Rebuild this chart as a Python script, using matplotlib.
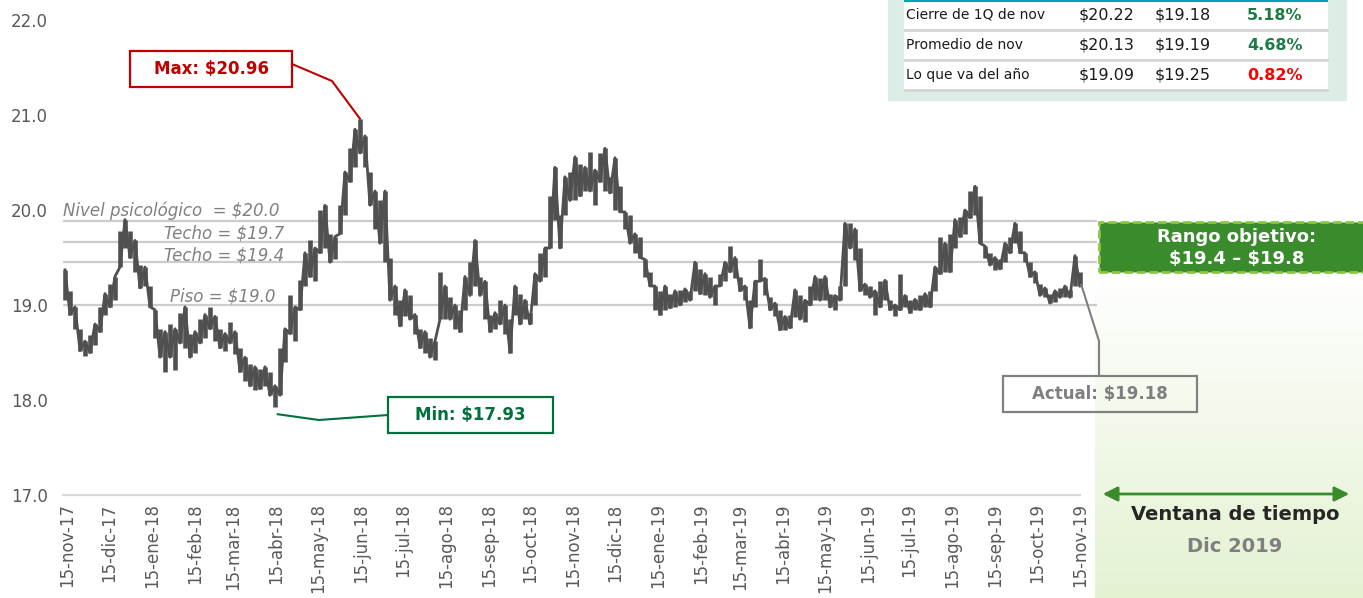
import numpy as np
import pandas as pd
import matplotlib
matplotlib.use('Agg')
import matplotlib.pyplot as plt
from matplotlib.patches import Rectangle, FancyArrowPatch
from matplotlib.lines import Line2D

plt.rcParams['font.family'] = ['DejaVu Sans']
plt.rcParams['text.parse_math'] = False

# ── datos ─────────────────────────────────────────────────────────
inicio = pd.Timestamp('2017-11-15')
fin = pd.Timestamp('2019-11-15')
paso_dias = 3.603          # separación entre muestras (días)
primer_dia = -1.44         # primera muestra respecto al 15-nov-17

bajo = [19.05, 18.90, 18.75, 18.52, 18.46, 18.50, 18.58, 18.72, 18.90, 18.98,
        19.05, 19.40, 19.60, 19.50, 19.35, 19.18, 19.20, 18.98, 18.65, 18.45,
        18.30, 18.45, 18.32, 18.60, 18.55, 18.45, 18.50, 18.60, 18.65, 18.75,
        18.62, 18.55, 18.52, 18.60, 18.48, 18.30, 18.20, 18.15, 18.10, 18.12,
        18.15, 18.05, 17.93, 18.05, 18.40, 18.70, 18.62, 18.95, 19.20, 19.30,
        19.25, 19.55, 19.60, 19.45, 19.48, 19.75, 19.95, 20.30, 20.45, 20.60,
        20.45, 20.05, 19.80, 19.65, 19.45, 19.05, 18.90, 18.78, 18.88, 18.85,
        18.70, 18.55, 18.50, 18.45, 18.42, 18.85, 18.85, 18.85, 18.75, 18.72,
        18.95, 19.10, 19.20, 19.10, 18.85, 18.72, 18.75, 18.80, 18.70, 18.50,
        18.90, 18.80, 18.85, 18.80, 19.00, 19.25, 19.30, 19.60, 19.90, 19.60,
        19.95, 20.10, 20.10, 20.15, 20.20, 20.20, 20.05, 20.30, 20.20, 20.18,
        20.00, 19.98, 19.80, 19.65, 19.55, 19.50, 19.30, 19.20, 18.95, 18.90,
        18.95, 18.97, 18.98, 19.00, 19.03, 19.05, 19.15, 19.12, 19.10, 19.08,
        19.00, 19.20, 19.25, 19.35, 19.28, 19.15, 19.05, 18.76, 18.98, 19.25,
        19.10, 18.95, 18.88, 18.74, 18.74, 18.76, 18.87, 18.85, 18.82, 19.00,
        19.05, 19.05, 19.05, 18.98, 18.95, 19.05, 19.20, 19.60, 19.47, 19.15,
        19.10, 19.08, 18.90, 18.98, 19.05, 18.95, 18.88, 18.95, 18.98, 18.92,
        18.95, 18.95, 18.98, 18.98, 19.15, 19.33, 19.35, 19.35, 19.60, 19.72,
        19.75, 19.92, 19.95, 19.65, 19.50, 19.42, 19.37, 19.38, 19.45, 19.55,
        19.65, 19.55, 19.45, 19.30, 19.23, 19.10, 19.08, 19.02, 19.03, 19.08,
        19.08, 19.08, 19.20, 19.20]

alto = [19.37, 19.15, 18.98, 18.75, 18.62, 18.68, 18.80, 18.98, 19.12, 19.22,
        19.30, 19.78, 19.90, 19.78, 19.68, 19.42, 19.40, 19.20, 18.95, 18.75,
        18.72, 18.80, 18.75, 18.92, 18.98, 18.70, 18.72, 18.85, 18.90, 18.98,
        18.88, 18.75, 18.70, 18.82, 18.72, 18.55, 18.45, 18.38, 18.35, 18.33,
        18.35, 18.30, 18.15, 18.55, 18.75, 19.10, 18.98, 19.26, 19.55, 19.68,
        19.60, 20.00, 20.05, 19.75, 19.72, 20.05, 20.40, 20.65, 20.85, 20.96,
        20.78, 20.40, 20.20, 20.10, 20.20, 19.50, 19.20, 19.05, 19.16, 19.10,
        18.90, 18.75, 18.72, 18.65, 18.62, 19.35, 19.20, 19.08, 19.00, 18.95,
        19.30, 19.45, 19.68, 19.30, 19.25, 18.90, 18.92, 19.05, 19.00, 18.85,
        19.20, 19.12, 19.05, 18.92, 19.33, 19.55, 19.60, 20.15, 20.45, 19.95,
        20.35, 20.40, 20.56, 20.48, 20.45, 20.61, 20.42, 20.60, 20.65, 20.35,
        20.55, 20.25, 19.98, 19.95, 19.75, 19.72, 19.48, 19.35, 19.20, 19.15,
        19.20, 19.12, 19.15, 19.16, 19.17, 19.15, 19.45, 19.38, 19.33, 19.30,
        19.20, 19.33, 19.45, 19.62, 19.50, 19.30, 19.20, 19.05, 19.25, 19.48,
        19.28, 19.08, 19.02, 18.95, 18.88, 18.90, 19.16, 19.10, 19.05, 19.20,
        19.30, 19.28, 19.30, 19.12, 19.10, 19.20, 19.86, 19.86, 19.80, 19.60,
        19.22, 19.20, 19.15, 19.25, 19.26, 19.05, 19.00, 19.33, 19.10, 19.05,
        19.06, 19.10, 19.12, 19.15, 19.40, 19.72, 19.65, 19.75, 19.90, 19.93,
        20.00, 20.20, 20.25, 20.15, 19.62, 19.55, 19.50, 19.48, 19.65, 19.72,
        19.86, 19.78, 19.55, 19.45, 19.35, 19.22, 19.18, 19.12, 19.15, 19.18,
        19.20, 19.16, 19.52, 19.35]

actual = 19.18

niveles = [19.88, 19.66, 19.45, 19.00]
etiquetas_nivel = ['Nivel psicológico  = $20.0', 'Techo = $19.7',
                   'Techo = $19.4', 'Piso = $19.0']

meses = ['ene', 'feb', 'mar', 'abr', 'may', 'jun',
         'jul', 'ago', 'sep', 'oct', 'nov', 'dic']

tabla_filas = ['Cierre de 1Q de nov', 'Promedio de nov', 'Lo que va del año']
tabla_a = ['$20.22', '$20.13', '$19.09']
tabla_b = ['$19.18', '$19.19', '$19.25']
tabla_var = ['5.18%', '4.68%', '0.82%']
var_colores = ['#1e7b46', '#1e7b46', '#ff0000']

# ── figura ────────────────────────────────────────────────────────
W, H = 1363, 598
fig = plt.figure(figsize=(W / 100, H / 100), dpi=100)
fig.patch.set_facecolor('white')

def fx(px):
    return px / W

def fy(py):
    return 1 - py / H

# escala: 15-nov-17 en x=67 px, 1.3877 px por día
px_dia = 1.3877
x0_dias = (63 - 67) / px_dia
x1_dias = (1097 - 67) / px_dia

# fondo verde degradado (ventana de tiempo)
ax_bg = fig.add_axes([fx(1095), 0, (W - 1095) / W, fy(272)], zorder=-5)
grad = np.linspace(0, 1, 256).reshape(-1, 1)
c0 = np.array([1.0, 1.0, 1.0])
c1 = np.array([0.894, 0.949, 0.824])
img = c0 + (c1 - c0) * grad[..., None]
ax_bg.imshow(img, aspect='auto', extent=[0, 1, 0, 1], origin='upper')
ax_bg.axis('off')

ax = fig.add_axes([fx(63), fy(495), (1097 - 63) / W, (495 - 20) / H])
ax.set_facecolor('none')
ax.set_xlim(x0_dias, x1_dias)
ax.set_ylim(17, 22)
for s in ax.spines.values():
    s.set_visible(False)

dias = primer_dia + paso_dias * np.arange(len(alto))
bajo = np.array(bajo)
alto = np.array(alto)

# líneas de referencia
for nv in niveles:
    ax.axhline(nv, color='#cccccc', lw=1.6, zorder=1)

# eje inferior
dias_fin = (fin - inicio).days
ax.plot([x0_dias, dias_fin], [17, 17], color='#d9d9d9', lw=1.6,
        clip_on=False, zorder=1)

# serie de precios: barras máx-mín + trazo en zigzag entre ellas
color_serie = '#505050'
ax.vlines(dias, bajo, alto, color=color_serie, lw=3.3, zorder=3)
zig = np.where(np.arange(len(alto)) % 2 == 0, alto, bajo)
ax.plot(dias, zig, color=color_serie, lw=2.0, zorder=3)

# ticks
ax.set_yticks(np.arange(17, 22.01, 1))
ax.set_yticklabels([f'{v:.1f}' for v in np.arange(17, 22.01, 1)])
fechas = pd.date_range(inicio, fin, freq='MS') + pd.Timedelta(days=14)
fechas = [inicio] + [f for f in fechas if inicio < f <= fin]
ax.set_xticks([(f - inicio).days for f in fechas])
ax.set_xticklabels([f'15-{meses[f.month - 1]}-{f.year % 100:02d}' for f in fechas],
                   rotation=90, va='top', ha='center')
ax.tick_params(axis='y', length=0, pad=11, labelsize=12, labelcolor='#595959')
ax.tick_params(axis='x', length=0, pad=6, labelsize=12, labelcolor='#595959')

# etiquetas de niveles
txt_kw = dict(style='italic', color='#808080', fontsize=12, va='baseline')
ax.text(x0_dias, 19.935, etiquetas_nivel[0], ha='left', **txt_kw)
ax.text((284 - 67) / px_dia, 19.705, etiquetas_nivel[1], ha='right', **txt_kw)
ax.text((284 - 67) / px_dia, 19.465, etiquetas_nivel[2], ha='right', **txt_kw)
ax.text((275 - 67) / px_dia, 19.04, etiquetas_nivel[3], ha='right', **txt_kw)

# ── anotaciones ───────────────────────────────────────────────────
to_fig = lambda x, y: fig.transFigure.inverted().transform(ax.transData.transform((x, y)))

def caja(x0, y0, x1, y1, ec, fc='white', fill=True, **kw):
    r = Rectangle((fx(x0), fy(y1)), (x1 - x0) / W, (y1 - y0) / H,
                  transform=fig.transFigure, facecolor=fc, edgecolor=ec,
                  fill=fill, zorder=6, **({'lw': 1.6} | kw))
    fig.add_artist(r)
    return r

def conector(puntos, color):
    xs = [p[0] for p in puntos]
    ys = [p[1] for p in puntos]
    fig.add_artist(Line2D(xs, ys, transform=fig.transFigure, color=color,
                          lw=1.5, zorder=6))

# máximo
i_max = int(np.argmax(alto))
p_max = to_fig(dias[i_max], alto[i_max])
caja(130, 51, 292, 87, '#c00000')
fig.text(fx(211), fy(69), f'Max: ${alto[i_max]:.2f}', color='#c00000',
         fontsize=12, fontweight='bold', ha='center', va='center', zorder=7)
conector([(fx(292), fy(64)), (fx(332), fy(81)), tuple(p_max)], '#c00000')

# mínimo
i_min = int(np.argmin(bajo))
p_min = to_fig(dias[i_min] + 2, bajo[i_min] - 0.08)
caja(388, 397, 553, 433, '#00703c')
fig.text(fx(470), fy(415), f'Min: ${bajo[i_min]:.2f}', color='#00703c',
         fontsize=12, fontweight='bold', ha='center', va='center', zorder=7)
conector([tuple(p_min), (fx(319), fy(420)), (fx(388), fy(415))], '#00703c')

# actual
p_act = to_fig(dias[-1] + 1, actual + 0.03)
caja(1003, 376, 1197, 412, '#808080', fill=False)
fig.text(fx(1100), fy(394), f'Actual: ${actual:.2f}', color='#7f7f7f',
         fontsize=12, fontweight='bold', ha='center', va='center', zorder=7)
conector([tuple(p_act), (fx(1099), fy(341)), (fx(1099), fy(376))], '#7f7f7f')

# rango objetivo
caja(1099, 222, 1370, 272, '#8dc63f', fc='#3a8b2b',
     lw=2.0, linestyle=(0, (3, 1.5)))
fig.text(fx(1237), fy(237), 'Rango objetivo:', color='white', fontsize=13,
         fontweight='bold', ha='center', va='center', zorder=7)
fig.text(fx(1237), fy(259), '$19.4 – $19.8', color='white', fontsize=13,
         fontweight='bold', ha='center', va='center', zorder=7)

# ventana de tiempo
fig.add_artist(FancyArrowPatch((fx(1100), fy(494)), (fx(1352), fy(494)),
                               transform=fig.transFigure, arrowstyle='<|-|>',
                               mutation_scale=22, color='#3a8b2b', lw=2,
                               zorder=6))
fig.text(fx(1235), fy(514), 'Ventana de tiempo', color='#262626', fontsize=14,
         fontweight='bold', ha='center', va='center')
fig.text(fx(1235), fy(547), 'Dic 2019', color='#7f7f7f', fontsize=14,
         fontweight='bold', ha='center', va='center')

# tabla
caja(889, -5, 1346, 100, '#dcede6', fc='#dcede6')
caja(905, -5, 1327, 89, 'white', fc='white')
fig.add_artist(Line2D([fx(905), fx(1327)], [fy(0.8), fy(0.8)],
                      transform=fig.transFigure, color='#00a3ad', lw=1.5,
                      zorder=7))
for k, fila in enumerate(tabla_filas):
    yc = 15 + 30 * k
    fig.text(fx(906), fy(yc), fila, fontsize=10, color='#1a1a1a',
             ha='left', va='center', zorder=7)
    fig.text(fx(1079), fy(yc), tabla_a[k], fontsize=11.5, color='#1a1a1a',
             ha='left', va='center', zorder=7)
    fig.text(fx(1155), fy(yc), tabla_b[k], fontsize=11.5, color='#1a1a1a',
             ha='left', va='center', zorder=7)
    fig.text(fx(1275), fy(yc), tabla_var[k], fontsize=11.5, color=var_colores[k],
             fontweight='bold', ha='center', va='center', zorder=7)
    ysep = 29.5 + 30 * k
    fig.add_artist(Line2D([fx(905), fx(1327)], [fy(ysep), fy(ysep)],
                          transform=fig.transFigure, color='#d4d4d4', lw=2,
                          zorder=7))

fig.savefig('out.png', dpi=100)
